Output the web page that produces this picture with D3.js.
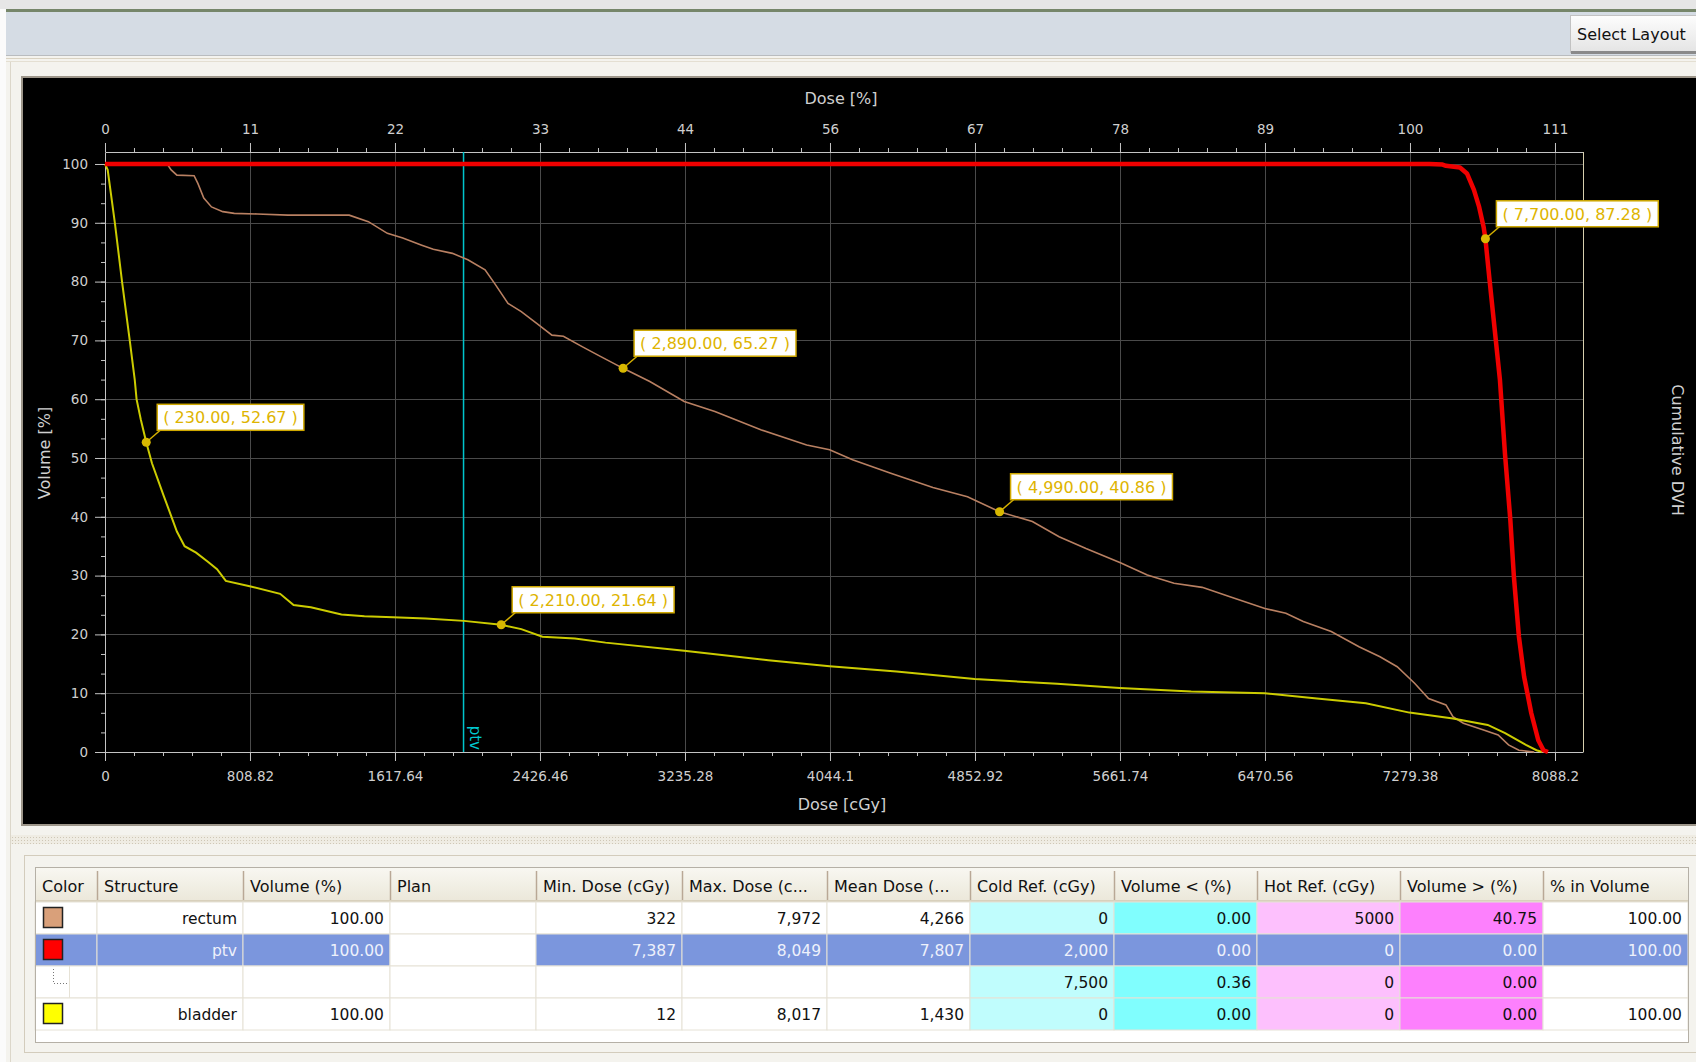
<!DOCTYPE html>
<html>
<head>
<meta charset="utf-8">
<script src="https://cdn.jsdelivr.net/npm/d3@7"></script>
<style>
body { margin:0; background:#f4f3ee; font-family:"DejaVu Sans", sans-serif; overflow:hidden; }
svg { display:block; }
.axis path, .axis line { stroke:#c4c4c4; }
.axis text { fill:#cfcfcf; font-family:"DejaVu Sans"; font-size:13.5px; }
.title { fill:#d0d0d0; font-size:16px; }
</style>
</head>
<body>
<svg id="chart" width="1696" height="1062"></svg>
<script>
// ---- dose axis ticks (cGy) and the matching % labels
const xTicks = [0, 808.82, 1617.64, 2426.46, 3235.28, 4044.1, 4852.92, 5661.74, 6470.56, 7279.38, 8088.2];
const pctLabels = ["0", "11", "22", "33", "44", "56", "67", "78", "89", "100", "111"];
const yTicks = [0, 10, 20, 30, 40, 50, 60, 70, 80, 90, 100];
const ptvLineDose = 2000;

// ---- DVH curves [dose cGy, volume %]
const bladder = [[0,100],[15,99],[55,90],[95,80],[138,70],[166,63.3],[176,60],[200,56.5],[230,52.67],[262,49.1],[326,43.7],[401,37.5],[444,35],[508,33.9],[572,32.4],[625,31.1],[674,29.1],[807,28.2],[977,26.9],[1052,25],[1148,24.6],[1319,23.4],[1447,23.1],[1607,22.9],[1789,22.7],[2002,22.3],[2210,21.64],[2322,20.9],[2440,19.6],[2621,19.3],[2792,18.6],[3231,17.2],[3700,15.6],[4042,14.6],[4415,13.7],[4851,12.4],[5311,11.6],[5660,10.9],[6059,10.3],[6470,10.0],[6760,9.1],[7033,8.3],[7276,6.7],[7519,5.7],[7713,4.6],[7810,3.2],[7926,1.2],[7985,0.3],[8017,0]];
const rectum = [[0,100],[347,100],[369,99],[401,98.1],[497,98],[518,96.7],[551,94.2],[594,92.7],[657,91.9],[721,91.6],[849,91.5],[1020,91.3],[1362,91.3],[1469,90.2],[1575,88.2],[1661,87.4],[1767,86.2],[1831,85.5],[1938,84.8],[2024,83.7],[2120,82.0],[2173,79.7],[2248,76.3],[2322,74.9],[2408,72.9],[2493,70.9],[2557,70.7],[2664,68.9],[2750,67.5],[2856,65.8],[2890,65.27],[3039,63],[3231,59.6],[3402,57.9],[3658,54.8],[3914,52.2],[4042,51.4],[4170,49.7],[4383,47.4],[4618,45.0],[4811,43.4],[4990,40.86],[5173,39.2],[5322,36.6],[5472,34.6],[5664,32.2],[5814,30.1],[5963,28.7],[6120,28.0],[6275,26.4],[6470,24.4],[6587,23.6],[6684,22.2],[6840,20.5],[6995,17.9],[7112,16.2],[7208,14.5],[7305,11.7],[7383,9.1],[7480,8.0],[7519,6.0],[7577,4.9],[7694,3.7],[7771,2.9],[7829,1.2],[7887,0.3],[7972,0]];
const ptv = [[0,100],[7387,100],[7461,99.9],[7480,99.7],[7558,99.4],[7597,98.4],[7636,95.6],[7665,92.7],[7690,89.3],[7700,87.28],[7723,80.3],[7752,71.8],[7781,63.3],[7809,50.8],[7839,39.5],[7859,29.8],[7887,19.6],[7916,12.8],[7956,6.6],[7995,2.0],[8024,0.3],[8049,0]];

// ---- probe labels
const probes = [[230,52.67],[2210,21.64],[2890,65.27],[4990,40.86],[7700,87.28]];

// ---- statistics table
const headers = ["Color","Structure","Volume (%)","Plan","Min. Dose (cGy)","Max. Dose (c...","Mean Dose (...","Cold Ref. (cGy)","Volume < (%)","Hot Ref. (cGy)","Volume > (%)","% in Volume"];
const structNames = ["rectum","ptv","","bladder"];
const structColors = ["#d9a07a","#ff0000",null,"#ffff00"];
const volumePct = [100,100,null,100];
const minDose = [322,7387,null,12];
const maxDose = [7972,8049,null,8017];
const meanDose = [4266,7807,null,1430];
const coldRef = [0,2000,7500,0];
const volBelow = [0,0,0.36,0];
const hotRef = [5000,0,0,0];
const volAbove = [40.75,0,0,0];
const inVolume = [100,100,null,100];
const selectedRow = 1;

const svg = d3.select("#chart");

// ---------- window chrome
svg.append("rect").attr("x",0).attr("y",0).attr("width",1696).attr("height",1062).attr("fill","#f4f3ee");
svg.append("rect").attr("x",0).attr("y",0).attr("width",6).attr("height",1062).attr("fill","#fbfbfb");
svg.append("rect").attr("x",0).attr("y",0).attr("width",1696).attr("height",9).attr("fill","#e6e6e6");
svg.append("rect").attr("x",6).attr("y",9).attr("width",1690).attr("height",3).attr("fill","#76866a");
svg.append("rect").attr("x",6).attr("y",12).attr("width",1690).attr("height",43).attr("fill","#d5dce4");
svg.append("line").attr("x1",6).attr("x2",1696).attr("y1",55.5).attr("y2",55.5).attr("stroke","#b9bcbf");
svg.append("line").attr("x1",6).attr("x2",1696).attr("y1",58.5).attr("y2",58.5).attr("stroke","#d9d2c2");
svg.append("line").attr("x1",6).attr("x2",1696).attr("y1",61.5).attr("y2",61.5).attr("stroke","#e4dfd2");
svg.append("line").attr("x1",10.5).attr("x2",10.5).attr("y1",62).attr("y2",1062).attr("stroke","#dcd7ca");

const defs = svg.append("defs");
const bg = defs.append("linearGradient").attr("id","btn").attr("x1",0).attr("x2",0).attr("y1",0).attr("y2",1);
bg.append("stop").attr("offset","0%").attr("stop-color","#fdfdfd");
bg.append("stop").attr("offset","100%").attr("stop-color","#e4e4e4");
const hg = defs.append("linearGradient").attr("id","hdr").attr("x1",0).attr("x2",0).attr("y1",0).attr("y2",1);
hg.append("stop").attr("offset","0%").attr("stop-color","#f8f7f1");
hg.append("stop").attr("offset","100%").attr("stop-color","#ebe7d9");
const pat = defs.append("pattern").attr("id","dots").attr("width",3).attr("height",3).attr("patternUnits","userSpaceOnUse");
pat.append("rect").attr("width",3).attr("height",3).attr("fill","#efece3");
pat.append("rect").attr("width",1).attr("height",1).attr("fill","#cfc7b6");

svg.append("rect").attr("x",1570.5).attr("y",15.5).attr("width",130).attr("height",37).attr("fill","url(#btn)").attr("stroke","#c2c2c2");
svg.append("rect").attr("x",1571).attr("y",51).attr("width",125).attr("height",3).attr("fill","#8a8a8a");
svg.append("text").attr("x",1577).attr("y",40).attr("font-size",16).attr("fill","#111").text("Select Layout");

// ---------- chart panel
svg.append("rect").attr("x",22).attr("y",77).attr("width",1680).attr("height",748)
  .attr("fill","#000").attr("stroke","#9d968a").attr("stroke-width",2);

const x = d3.scaleLinear().domain([0, 8244.4]).range([105, 1583]);
const y = d3.scaleLinear().domain([0, 102.04]).range([752, 152]);
const xMinor = d3.range(0, 8088.3, 161.764);
const yMinor = d3.range(0, 100.1, 10 / 3);

// grid
svg.append("g").selectAll("line").data(xTicks.slice(1)).join("line")
  .attr("x1", d => Math.round(x(d)) + 0.5).attr("x2", d => Math.round(x(d)) + 0.5)
  .attr("y1", y.range()[1]).attr("y2", y.range()[0])
  .attr("stroke","#4a4a4a");
svg.append("g").selectAll("line").data(yTicks.slice(1)).join("line")
  .attr("x1", x.range()[0]).attr("x2", x.range()[1])
  .attr("y1", d => Math.round(y(d)) + 0.5).attr("y2", d => Math.round(y(d)) + 0.5)
  .attr("stroke","#4a4a4a");

// axes
const [x0, x1] = x.range();
const [y0, y1] = y.range();
svg.append("g").attr("class","axis").attr("transform",`translate(0,${y0})`)
  .call(d3.axisBottom(x).tickValues(xTicks).tickSize(9).tickSizeOuter(0).tickPadding(10).tickFormat(d => String(d)));
svg.append("g").attr("class","axis").attr("transform",`translate(0,${y0})`)
  .call(d3.axisBottom(x).tickValues(xMinor).tickSize(4).tickSizeOuter(0).tickFormat(""))
  .select(".domain").remove();
svg.append("g").attr("class","axis").attr("transform",`translate(0,${y1})`)
  .call(d3.axisTop(x).tickValues(xTicks).tickSize(9).tickSizeOuter(0).tickPadding(9).tickFormat((d, i) => pctLabels[i]));
svg.append("g").attr("class","axis").attr("transform",`translate(0,${y1})`)
  .call(d3.axisTop(x).tickValues(xMinor).tickSize(4).tickSizeOuter(0).tickFormat(""))
  .select(".domain").remove();
svg.append("g").attr("class","axis").attr("transform",`translate(${x0},0)`)
  .call(d3.axisLeft(y).tickValues(yTicks).tickSize(10).tickSizeOuter(0).tickPadding(7));
svg.append("g").attr("class","axis").attr("transform",`translate(${x0},0)`)
  .call(d3.axisLeft(y).tickValues(yMinor).tickSize(4).tickSizeOuter(0).tickFormat(""))
  .select(".domain").remove();
svg.append("line").attr("x1",x1 + 0.5).attr("x2",x1 + 0.5).attr("y1",y1).attr("y2",y0).attr("stroke","#d6cfae");

// titles
svg.append("text").attr("class","title").attr("x",841).attr("y",104).attr("text-anchor","middle").text("Dose [%]");
svg.append("text").attr("class","title").attr("x",842).attr("y",810).attr("text-anchor","middle").text("Dose [cGy]");
svg.append("text").attr("class","title").attr("transform","translate(50,453) rotate(-90)").attr("text-anchor","middle").text("Volume [%]");
svg.append("text").attr("class","title").attr("font-size",15.5).attr("transform","translate(1672,450) rotate(90)").attr("text-anchor","middle").text("Cumulative DVH");

// reference line for ptv
svg.append("line").attr("x1",x(ptvLineDose)).attr("x2",x(ptvLineDose)).attr("y1",y1).attr("y2",y0)
  .attr("stroke","#00c4cc").attr("stroke-width",1.5);
svg.append("text").attr("transform",`translate(${x(ptvLineDose) + 6},${y0 - 2}) rotate(90)`)
  .attr("text-anchor","end").attr("font-size",15).attr("fill","#00c8d0").text("ptv");

// curves
const line = d3.line().x(d => x(d[0])).y(d => y(d[1]));
svg.append("path").datum(rectum).attr("d",line).attr("fill","none").attr("stroke","#b98062").attr("stroke-width",1.6);
svg.append("path").datum(bladder).attr("d",line).attr("fill","none").attr("stroke","#cccc00").attr("stroke-width",2);
svg.append("path").datum(ptv).attr("d",line).attr("fill","none").attr("stroke","#f00000").attr("stroke-width",4.5).attr("stroke-linejoin","round");

// probes
const fmt = d3.format(",.2f");
const pg = svg.append("g").selectAll("g").data(probes).join("g")
  .attr("transform", d => `translate(${x(d[0])},${y(d[1])})`);
pg.append("line").attr("x1",0).attr("y1",0).attr("x2",14).attr("y2",-12).attr("stroke","#d4b000").attr("stroke-width",1.5);
pg.append("circle").attr("r",4.5).attr("fill","#d8b800");
pg.append("rect").attr("x",11).attr("y",-38).attr("height",26)
  .attr("fill","#fff").attr("stroke","#cfa800").attr("stroke-width",1.5);
pg.append("text").attr("x",17).attr("y",-19).attr("font-size",16).attr("fill","#deb400")
  .text(d => `( ${fmt(d[0])}, ${fmt(d[1])} )`);
pg.each(function() {
  const g = d3.select(this);
  const w = g.select("text").node().getComputedTextLength();
  g.select("rect").attr("width", w + 12);
});

// ---------- splitter
svg.append("rect").attr("x",11).attr("y",835).attr("width",1685).attr("height",9).attr("fill","url(#dots)");

// ---------- statistics table
svg.append("rect").attr("x",24.5).attr("y",855.5).attr("width",1680).attr("height",197)
  .attr("fill","none").attr("stroke","#d3ccbc");
const colEdges = [35, 97, 243, 390, 536, 682, 827, 970, 1114, 1257, 1400, 1543, 1688];
const headTop = 868, headH = 34, rowH = 32;
svg.append("rect").attr("x",35).attr("y",headTop).attr("width",1653).attr("height",174).attr("fill","#fff");
svg.append("rect").attr("x",35).attr("y",headTop).attr("width",1653).attr("height",headH).attr("fill","url(#hdr)");
svg.append("line").attr("x1",35).attr("x2",1688).attr("y1",headTop + headH - 1).attr("y2",headTop + headH - 1).attr("stroke","#d8d0bc").attr("stroke-width",2);

svg.append("g").selectAll("line").data(colEdges.slice(1, -1)).join("line")
  .attr("x1", d => d + 0.5).attr("x2", d => d + 0.5).attr("y1",headTop + 3).attr("y2",headTop + headH - 2)
  .attr("stroke","#b9a896").attr("stroke-width",1.5);
svg.append("g").selectAll("text").data(headers).join("text")
  .attr("x", (d, i) => colEdges[i] + 7).attr("y", headTop + 24).attr("font-size",16).attr("fill","#111").text(d => d);

const fInt = d3.format(",d"), f2 = d3.format(".2f");
const columns = [
  { v: structColors, f: () => "" },
  { v: structNames, f: d => d },
  { v: volumePct, f: f2 },
  { v: structNames.map(() => null), f: () => "", plain: true },
  { v: minDose, f: fInt },
  { v: maxDose, f: fInt },
  { v: meanDose, f: fInt },
  { v: coldRef, f: fInt, bg: "#c0fdfd" },
  { v: volBelow, f: f2, bg: "#80fefe" },
  { v: hotRef, f: d => String(d), bg: "#fdc0fd" },
  { v: volAbove, f: f2, bg: "#fd80fd" },
  { v: inVolume, f: f2 }
];

const cells = [];
structNames.forEach((s, r) => {
  columns.forEach((c, j) => {
    const val = c.v[r];
    cells.push({
      r, j,
      text: (val === null || val === "" || j === 0) ? "" : c.f(val),
      fill: (r === selectedRow && !c.plain) ? "#7b96dd" : (c.bg || "#fff"),
      sel: r === selectedRow
    });
  });
});

const rowTop = r => headTop + headH + r * rowH;
const cg = svg.append("g").selectAll("g").data(cells).join("g");
cg.append("rect")
  .attr("x", d => colEdges[d.j]).attr("y", d => rowTop(d.r))
  .attr("width", d => colEdges[d.j + 1] - colEdges[d.j]).attr("height", rowH)
  .attr("fill", d => d.fill).attr("stroke","#e6e2d6");
cg.append("text")
  .attr("x", d => colEdges[d.j + 1] - 6).attr("y", d => rowTop(d.r) + 22)
  .attr("text-anchor","end").attr("font-size",15.5)
  .attr("fill", d => d.sel ? "#eef1fb" : "#111").text(d => d.text);

// colour swatches
svg.append("g").selectAll("rect").data(structColors.map((c, r) => ({ c, r })).filter(d => d.c)).join("rect")
  .attr("x", 43.5).attr("y", d => rowTop(d.r) + 5.5).attr("width",19).attr("height",20)
  .attr("fill", d => d.c).attr("stroke","#222").attr("stroke-width",1.5);

// tree connector for the sub row
const subTop = rowTop(2);
svg.append("path").attr("d",`M53.5,${subTop + 3}V${subTop + 17.5}H68`)
  .attr("fill","none").attr("stroke","#777").attr("stroke-dasharray","1,2");
svg.append("line").attr("x1",69.5).attr("x2",69.5).attr("y1",subTop).attr("y2",subTop + rowH).attr("stroke","#e6e2d6");

svg.append("rect").attr("x",35.5).attr("y",headTop - 0.5).attr("width",1653).attr("height",175)
  .attr("fill","none").attr("stroke","#b5b0a6");
</script>
</body>
</html>
